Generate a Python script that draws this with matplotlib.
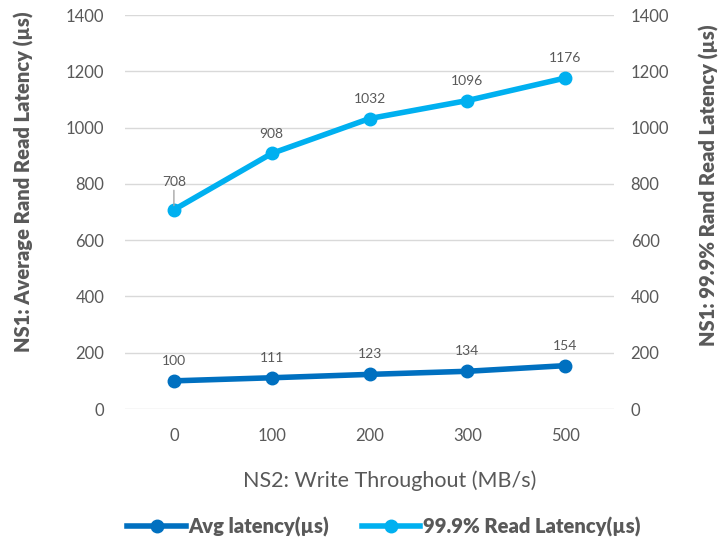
import matplotlib
matplotlib.use("Agg")
import matplotlib.pyplot as plt

categories = ["0", "100", "200", "300", "500"]
avg_latency = [100, 111, 123, 134, 154]
p999_latency = [708, 908, 1032, 1096, 1176]
yticks = [0, 200, 400, 600, 800, 1000, 1200, 1400]

plt.rcParams['font.family'] = ['Lato', 'DejaVu Sans']
gray = '#595959'
c_avg = '#0070C0'
c_p = '#00B0F0'

fig = plt.figure(figsize=(7.23, 5.41), dpi=100)
ax = fig.add_axes([125/723, 1-409/541, 489/723, 394/541])
ax2 = ax.twinx()
x = list(range(len(categories)))

l1, = ax.plot(x, avg_latency, color=c_avg, lw=4, marker='o', ms=9, label='Avg latency(µs)', zorder=3)
l2, = ax2.plot(x, p999_latency, color=c_p, lw=4, marker='o', ms=9, label='99.9% Read Latency(µs)', zorder=3)

for a in (ax, ax2):
    a.set_ylim(0, 1400)
    a.set_yticks(yticks)
    a.set_xlim(-0.5, len(categories) - 0.5)
    for s in a.spines.values():
        s.set_visible(False)
    a.tick_params(axis='both', length=0, labelsize=12, labelcolor=gray)
ax.tick_params(axis='y', pad=15)
ax2.tick_params(axis='y', pad=12)
ax.tick_params(axis='x', pad=14)

ax.set_xticks(x)
ax.set_xticklabels(categories)
ax.grid(axis='y', color='#D9D9D9', lw=1)
ax.set_axisbelow(True)

for xi, v in zip(x, avg_latency):
    ax.annotate(str(v), (xi, v), xytext=(0, 10), textcoords='offset points', ha='center', va='bottom', fontsize=10, color=gray)
for i, (xi, v) in enumerate(zip(x, p999_latency)):
    if i == 0:
        ax2.annotate(str(v), (xi, v), xytext=(0, 16), textcoords='offset points', ha='center', va='bottom', fontsize=10, color=gray,
                     arrowprops=dict(arrowstyle='-', color='#A6A6A6', lw=1, shrinkA=0, shrinkB=3))
    else:
        ax2.annotate(str(v), (xi, v), xytext=(0, 10), textcoords='offset points', ha='center', va='bottom', fontsize=10, color=gray)

ax.set_xlabel('NS2: Write Throughout (MB/s)', fontsize=15.5, color=gray)
ax.xaxis.set_label_coords((390-125)/489, -(481-409)/394)
ax.xaxis.label.set_va('center')
ax.set_ylabel('NS1: Average Rand Read Latency (µs)', fontsize=14.5, color=gray, fontweight='heavy')
ax.yaxis.set_label_coords(-(125-24)/489, (409-182)/394)
ax.yaxis.label.set_va('center')
ax2.set_ylabel('NS1: 99.9% Rand Read Latency (µs)', fontsize=14.5, color=gray, fontweight='heavy')
ax2.yaxis.set_label_coords(1+(709-614)/489, (409-185)/394)
ax2.yaxis.label.set_va('center')

fig.legend(handles=[l1, l2], loc='center', bbox_to_anchor=(384/723, 1-527/541), ncol=2, frameon=False,
           prop={'size': 14.5, 'weight': 'heavy'}, labelcolor=gray, handlelength=2.9, handletextpad=0.15, columnspacing=1.6)

fig.savefig('out.png', dpi=100)
